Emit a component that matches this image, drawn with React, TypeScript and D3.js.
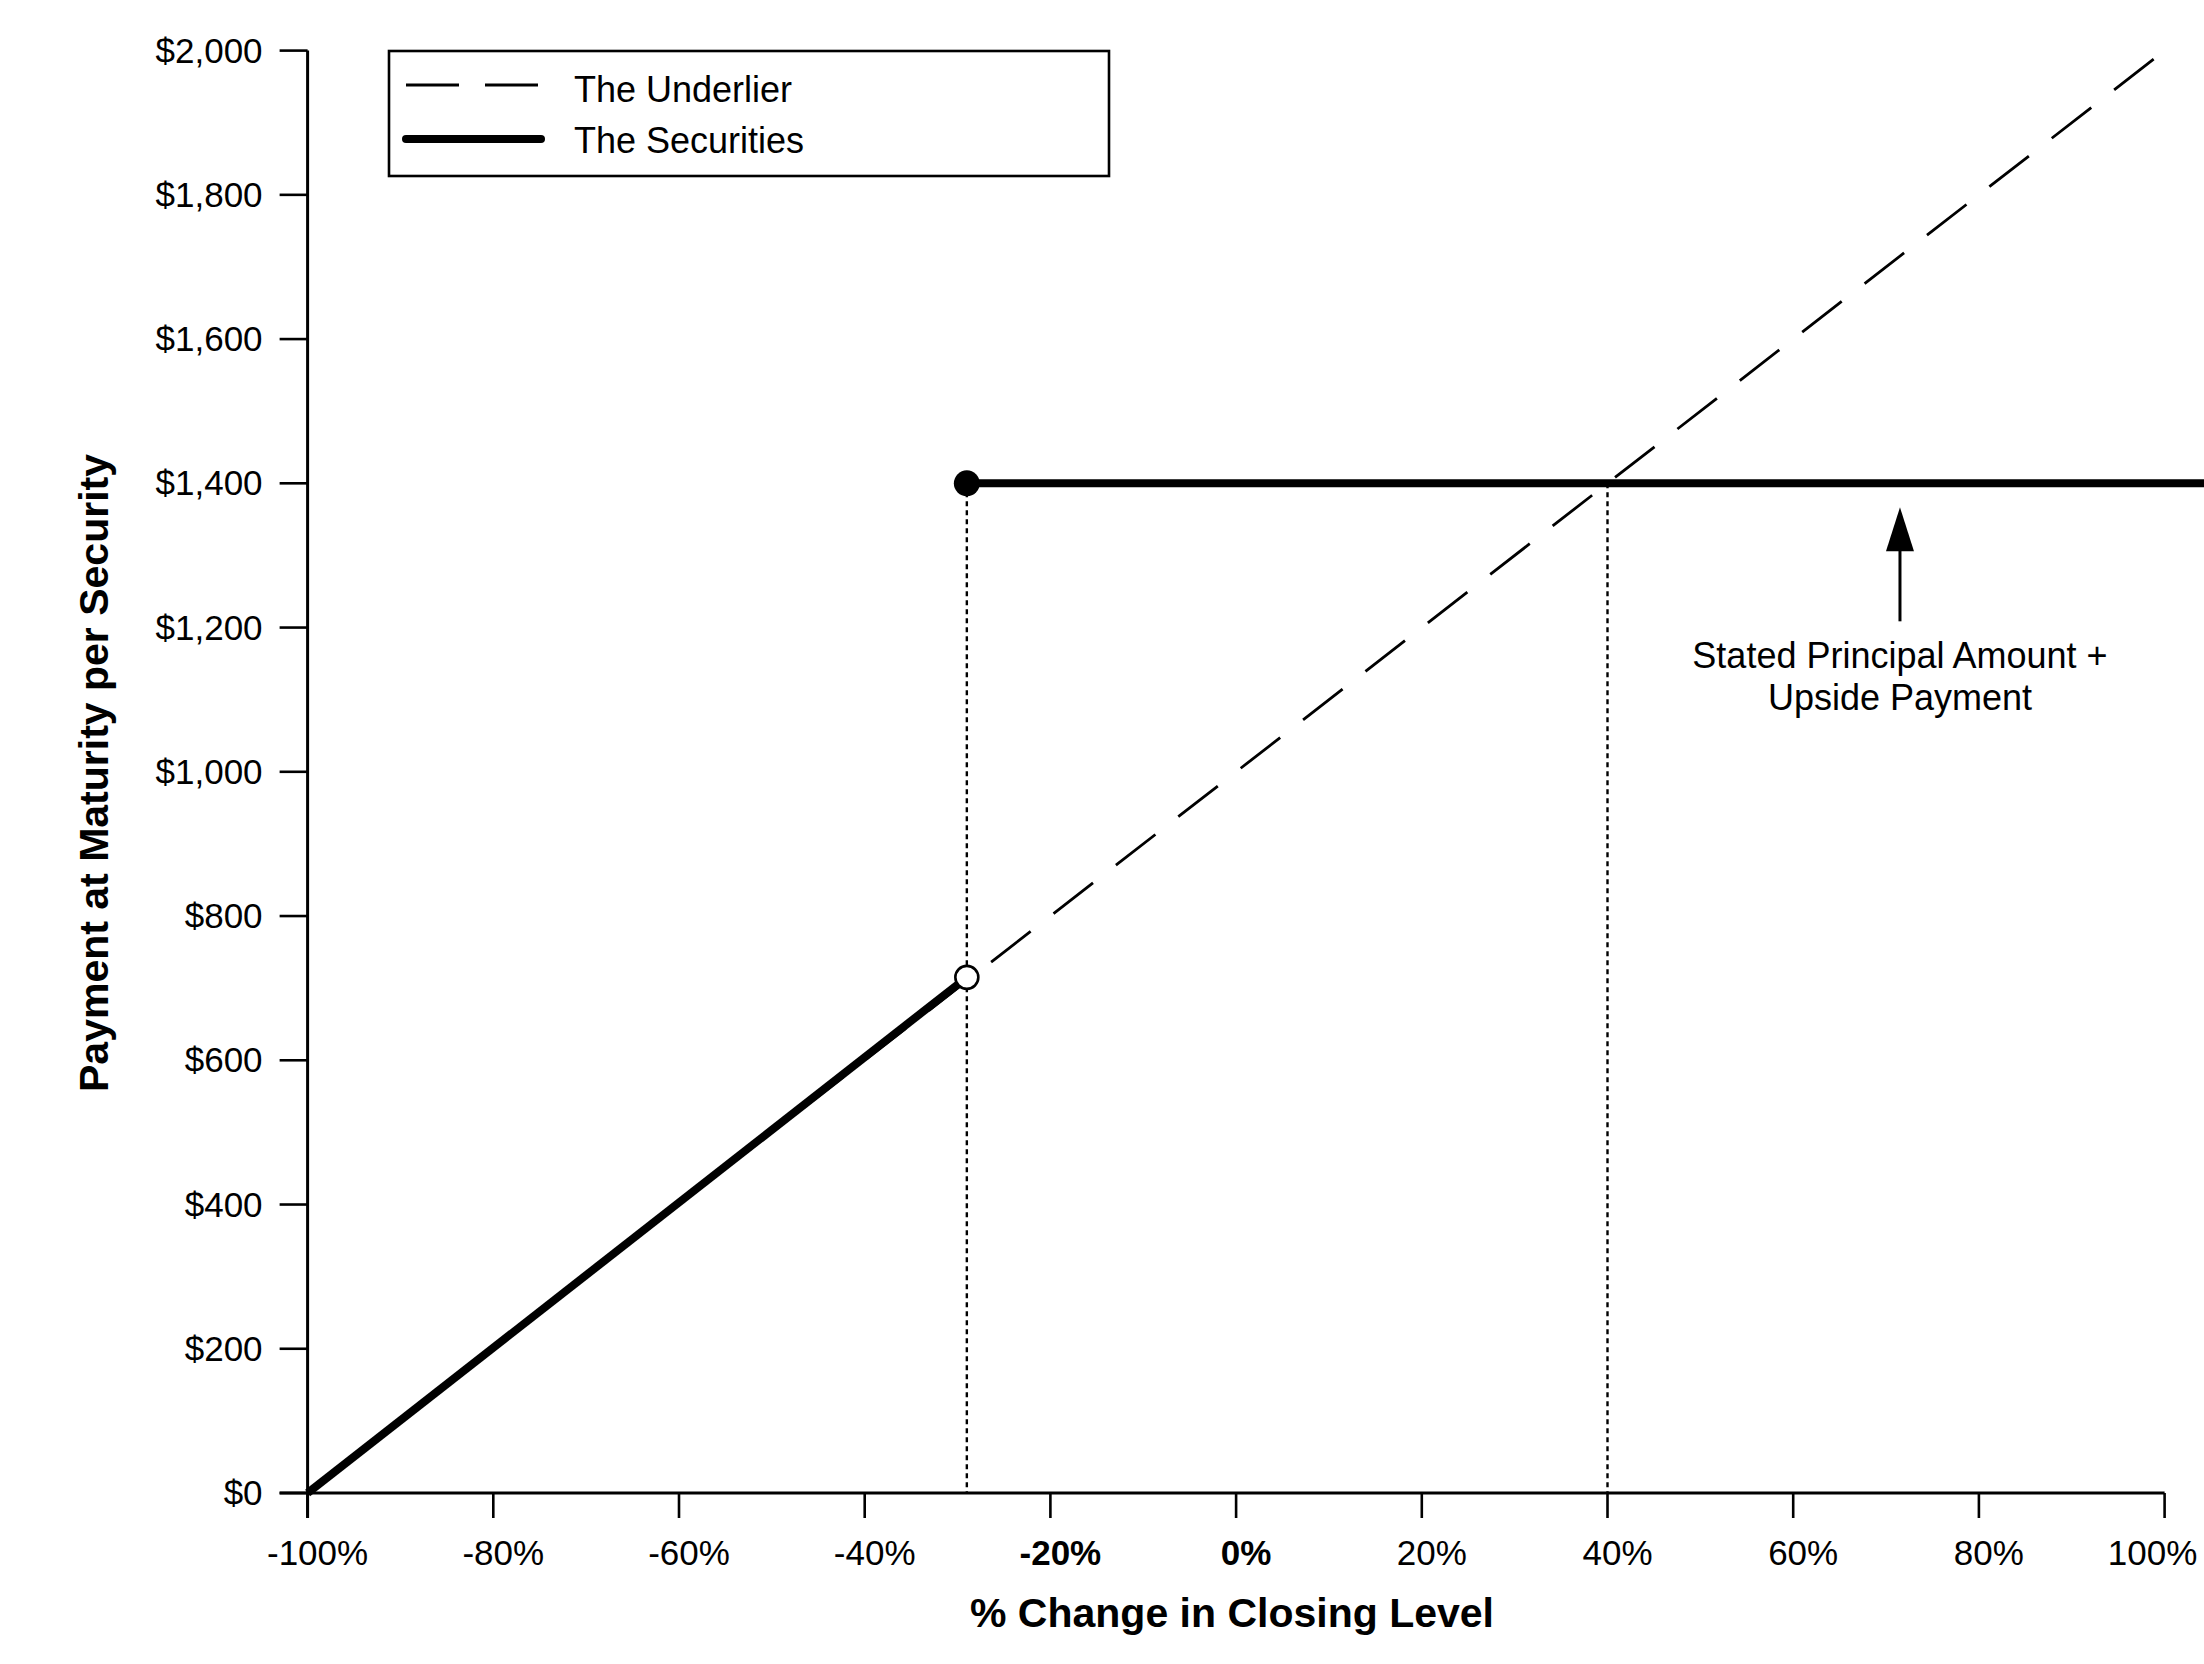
import React from 'react';
import * as d3 from 'd3';

// chart values
const xTicks = [-100, -80, -60, -40, -20, 0, 20, 40, 60, 80, 100];
const boldXTicks = [-20, 0];
const yTicks = [0, 200, 400, 600, 800, 1000, 1200, 1400, 1600, 1800, 2000];
const underlierPoints: [number, number][] = [[-100, 0], [100, 2000]];
const securitiesLow: [number, number][] = [[-100, 0], [-29, 715]];
const securitiesHigh: [number, number][] = [[-29, 1400], [105, 1400]];
const barrierPct = -29;
const capPct = 40;
const capValue = 1400;
const annotationPct = 71.5;
const annotationLines = ['Stated Principal Amount +', 'Upside Payment'];
const legendItems = ['The Underlier', 'The Securities'];

const W = 2204;
const H = 1664;
const FONT = '"Liberation Sans", Arial, Helvetica, sans-serif';

const App: React.FC = () => {
  const x = d3.scaleLinear().domain([-100, 100]).range([307.6, 2164.6]);
  const y = d3.scaleLinear().domain([0, 2000]).range([1493, 50.6]);

  const line = d3.line<[number, number]>()
    .x((d) => x(d[0]))
    .y((d) => y(d[1]));

  const fmtY = (v: number) => '$' + d3.format(',')(v);
  const fmtX = (v: number) => `${v}%`;

  const arrowX = x(annotationPct);
  const tipY = y(capValue) + 24;
  const tailY = tipY + 114;

  return (
    <div style={{ position: 'absolute', left: 0, top: 0 }}>
      <svg width={W} height={H} style={{ display: 'block', background: '#fff' }}>
        <rect width={W} height={H} fill="#fff" />

        {/* axes */}
        <line x1={x(-100)} x2={x(-100)} y1={y(2000)} y2={y(0) + 25} stroke="#000" strokeWidth={3} />
        <line x1={x(-100) - 28} x2={x(100)} y1={y(0)} y2={y(0)} stroke="#000" strokeWidth={3.2} />

        {yTicks.map((t) => (
          <g key={'y' + t}>
            <line x1={x(-100) - 28} x2={x(-100)} y1={y(t)} y2={y(t)} stroke="#000" strokeWidth={2.6} />
            <text
              x={x(-100) - 45}
              y={y(t) + 12}
              textAnchor="end"
              fontFamily={FONT}
              fontSize={35}
              fill="#000"
            >
              {fmtY(t)}
            </text>
          </g>
        ))}

        {xTicks.map((t, i) => (
          <g key={'x' + t}>
            <line x1={x(t)} x2={x(t)} y1={y(0)} y2={y(0) + 25} stroke="#000" strokeWidth={2.6} />
            <text
              x={x(t) + (i === xTicks.length - 1 ? -12 : 10)}
              y={y(0) + 72}
              textAnchor="middle"
              fontFamily={FONT}
              fontSize={35}
              fontWeight={boldXTicks.includes(t) ? 'bold' : 'normal'}
              fill="#000"
            >
              {fmtX(t)}
            </text>
          </g>
        ))}

        {/* axis titles */}
        <text
          x={1232}
          y={1627}
          textAnchor="middle"
          fontFamily={FONT}
          fontSize={41}
          fontWeight="bold"
        >
          % Change in Closing Level
        </text>
        <text
          transform={`translate(108, ${773}) rotate(-90)`}
          textAnchor="middle"
          fontFamily={FONT}
          fontSize={41}
          fontWeight="bold"
        >
          Payment at Maturity per Security
        </text>

        {/* dotted reference lines */}
        {[barrierPct, capPct].map((p) => (
          <line
            key={'d' + p}
            x1={x(p)}
            x2={x(p)}
            y1={y(capValue)}
            y2={y(0)}
            stroke="#000"
            strokeWidth={2.4}
            strokeDasharray="5,4"
          />
        ))}

        {/* underlier */}
        <path
          d={line(underlierPoints) || ''}
          fill="none"
          stroke="#000"
          strokeWidth={2.8}
          strokeDasharray="50,29"
          strokeDashoffset={3.5}
        />

        {/* securities */}
        <path d={line(securitiesLow) || ''} fill="none" stroke="#000" strokeWidth={8} />
        <path d={line(securitiesHigh) || ''} fill="none" stroke="#000" strokeWidth={8} />
        <circle cx={x(barrierPct)} cy={y(capValue)} r={13} fill="#000" />
        <circle cx={x(securitiesLow[1][0])} cy={y(securitiesLow[1][1])} r={11.5} fill="#fff" stroke="#000" strokeWidth={2.6} />

        {/* annotation */}
        <line x1={arrowX} x2={arrowX} y1={tailY} y2={tipY + 30} stroke="#000" strokeWidth={3} />
        <path
          d={`M${arrowX},${tipY} L${arrowX - 14},${tipY + 44} L${arrowX + 14},${tipY + 44} Z`}
          fill="#000"
        />
        {annotationLines.map((s, i) => (
          <text
            key={s}
            x={arrowX}
            y={tailY + 47 + i * 42}
            textAnchor="middle"
            fontFamily={FONT}
            fontSize={36}
          >
            {s}
          </text>
        ))}

        {/* legend */}
        <rect x={389} y={51} width={720} height={125} fill="#fff" stroke="#000" strokeWidth={2.6} />
        <line x1={406} x2={541} y1={85} y2={85} stroke="#000" strokeWidth={2.8} strokeDasharray="53,26" />
        <line x1={406} x2={541} y1={139} y2={139} stroke="#000" strokeWidth={8} strokeLinecap="round" />
        {legendItems.map((s, i) => (
          <text key={s} x={574} y={102 + i * 51} fontFamily={FONT} fontSize={36}>
            {s}
          </text>
        ))}
      </svg>
    </div>
  );
};

export default App;
